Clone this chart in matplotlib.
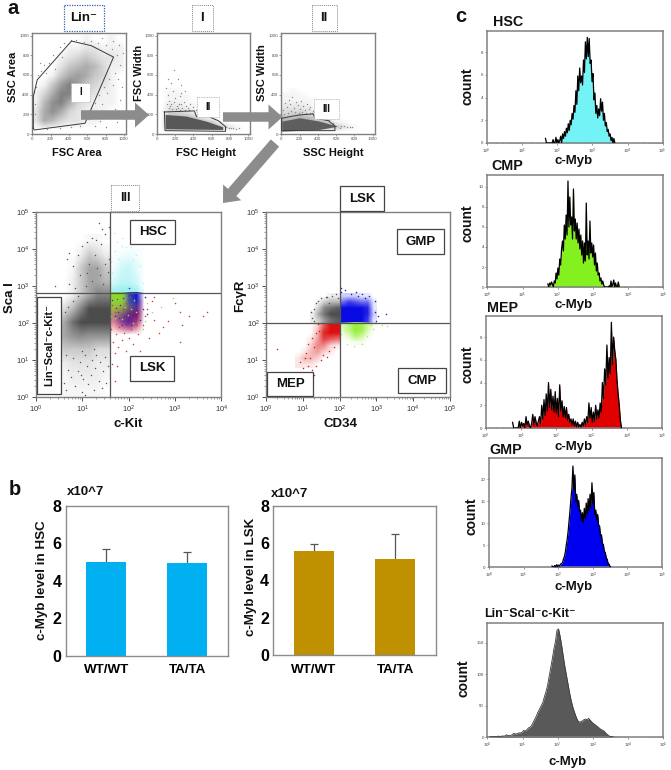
import numpy as np
import matplotlib
matplotlib.use('Agg')
import matplotlib.pyplot as plt
from matplotlib.colors import LinearSegmentedColormap, to_rgb
from matplotlib.patches import Polygon, Rectangle, FancyArrow

W, H = 671, 770
plt.rcParams['font.family'] = ['Liberation Sans', 'DejaVu Sans']
plt.rcParams['mathtext.fontset'] = 'custom'
plt.rcParams['mathtext.rm'] = 'Liberation Sans'
plt.rcParams['mathtext.bf'] = 'Liberation Sans:bold'

# --- b: bars ---
genotypes = ['WT/WT', 'TA/TA']
hsc_level = [5.0, 4.95]
hsc_upper = [5.68, 5.54]
lsk_level = [5.58, 5.13]
lsk_upper = [5.95, 6.47]

# --- a: gates, top row (linear 0-1024) ---
gate_i = [(11, 58), (11, 381), (54, 551), (428, 945), (645, 898), (888, 782), (576, 109), (22, 41), (11, 58)]
gate_ii = [(84, 224), (411, 235), (436, 177), (564, 177), (673, 136), (753, 75), (753, 27), (91, 34), (84, 224)]
gate_iii = [(4, 160), (95, 177), (204, 194), (350, 204), (369, 160), (515, 136), (588, 82), (588, 34), (4, 34), (4, 160)]

fsc_dark = [(98, 194), (327, 177), (545, 126), (727, 68), (727, 41), (98, 48)]
ssc_dark = [(11, 126), (204, 160), (422, 126), (622, 75), (422, 41), (11, 24)]

# event density read by eye, rows run from low y to high y
top_x = [0, 100, 200, 300, 400, 500, 600, 700, 800, 900, 1000]
area_y = [0, 100, 200, 300, 400, 500, 600, 700, 800, 900, 1000]
area_density = [[0, 0, 0, 0, 0, 0, 0, 0, 0, 0, 0],
                [2, 6, 5, 3, 2, 2, 1, 1, 0, 0, 0],
                [2, 6, 8, 6, 3, 2, 1, 1, 1, 0, 0],
                [1, 5, 8, 9, 6, 3, 2, 1, 1, 1, 0],
                [1, 3, 6, 9, 9, 5, 3, 2, 1, 1, 0],
                [0, 1, 4, 7, 9, 7, 4, 3, 2, 1, 0],
                [0, 0, 1, 4, 6, 7, 6, 4, 3, 1, 0],
                [0, 0, 0, 2, 4, 5, 6, 5, 3, 1, 1],
                [0, 0, 0, 1, 2, 3, 4, 3, 2, 2, 1],
                [0, 0, 0, 0, 1, 1, 2, 2, 1, 1, 1],
                [0, 0, 0, 0, 0, 0, 1, 0, 0, 1, 0]]
width_y = [0, 50, 100, 150, 200, 250, 300, 350, 400, 450, 500]
fsc_density = [[0, 0, 0, 0, 0, 0, 0, 0, 0, 0, 0],
               [0, 7, 8, 8, 8, 8, 7, 6, 3, 1, 0],
               [0, 7, 8, 8, 8, 7, 6, 2, 0, 0, 0],
               [0, 7, 8, 7, 6, 3, 1, 0, 0, 0, 0],
               [0, 5, 5, 4, 2, 1, 0, 0, 0, 0, 0],
               [0, 3, 3, 2, 1, 0, 0, 0, 0, 0, 0],
               [0, 2, 2, 1, 1, 0, 0, 0, 0, 0, 0],
               [0, 1, 1, 1, 0, 0, 0, 0, 0, 0, 0],
               [0, 1, 1, 1, 0, 0, 0, 0, 0, 0, 0],
               [0, 1, 1, 0, 0, 0, 0, 0, 0, 0, 0],
               [0, 0, 0, 0, 0, 0, 0, 0, 0, 0, 0]]
ssc_density = [[0, 0, 0, 0, 0, 0, 0, 0, 0, 0, 0],
               [8, 8, 8, 8, 8, 7, 6, 3, 1, 0, 0],
               [8, 8, 8, 8, 7, 6, 2, 1, 0, 0, 0],
               [7, 7, 8, 7, 5, 2, 0, 0, 0, 0, 0],
               [4, 5, 5, 3, 1, 0, 0, 0, 0, 0, 0],
               [3, 3, 3, 2, 1, 0, 0, 0, 0, 0, 0],
               [2, 2, 2, 1, 0, 0, 0, 0, 0, 0, 0],
               [1, 1, 1, 1, 0, 0, 0, 0, 0, 0, 0],
               [1, 1, 1, 0, 0, 0, 0, 0, 0, 0, 0],
               [0, 1, 0, 0, 0, 0, 0, 0, 0, 0, 0],
               [0, 0, 0, 0, 0, 0, 0, 0, 0, 0, 0]]

area_dots = [(20, 430), (35, 480), (60, 600), (90, 640), (130, 700), (180, 720), (230, 800), (300, 880), (350, 930),
             (480, 960), (560, 940), (640, 950), (720, 930), (800, 900), (870, 860), (930, 800), (960, 700), (900, 620),
             (840, 560), (780, 480), (730, 400), (680, 320), (640, 260), (600, 190), (760, 300), (820, 420), (880, 500),
             (940, 560), (980, 480), (960, 350), (900, 250), (820, 190), (740, 130), (680, 80), (800, 70), (930, 120),
             (970, 220), (300, 60), (420, 70), (520, 85), (160, 50), (80, 720), (150, 620), (250, 660), (330, 780),
             (420, 960), (760, 980), (880, 950), (950, 900), (990, 820), (30, 300), (25, 200), (700, 230), (620, 150)]
fsc_dots = [(105, 470), (120, 400), (140, 340), (160, 300), (180, 440), (200, 370), (220, 280), (240, 310), (260, 390),
            (280, 260), (300, 330), (320, 285), (340, 260), (360, 300), (130, 260), (170, 255), (210, 250), (250, 245),
            (110, 300), (150, 280), (190, 330), (230, 265), (270, 300), (310, 245), (350, 245), (400, 270), (430, 240),
            (450, 310), (190, 650), (230, 560), (160, 520), (270, 500), (310, 440), (120, 560), (480, 220), (520, 195),
            (560, 190), (600, 170), (640, 150), (690, 120), (760, 75), (790, 60), (810, 65), (840, 58), (870, 55), (900, 58), (270, 420)]
ssc_dots = [(20, 240), (40, 320), (60, 270), (80, 350), (100, 300), (120, 380), (140, 260), (160, 330), (180, 290),
            (200, 250), (220, 340), (240, 280), (260, 240), (280, 300), (300, 250), (320, 270), (350, 230), (30, 200),
            (70, 210), (110, 230), (150, 225), (190, 215), (230, 225), (270, 215), (310, 210), (340, 215), (390, 200),
            (430, 190), (470, 160), (520, 140), (570, 110), (660, 80), (690, 78), (720, 74), (750, 76), (780, 72), (640, 60), (380, 250)]

# --- a: lower left plot, log10 positions (c-Kit, Sca I) ---
black_lx = [0, 0.2, 0.4, 0.6, 0.8, 1.0, 1.2, 1.4, 1.59]
black_ly = [0, 0.4, 0.8, 1.2, 1.6, 2.0, 2.4, 2.8, 3.2, 3.6, 4.0, 4.4]
black_density = [[0, 0, 0, .5, .5, .5, .5, .5, 0],
                 [0, 0, .5, .5, 1, 1, 1, 1, .5],
                 [0, 0, .5, 1, 1.5, 1.5, 1.5, 1, 1],
                 [0, 1, 2, 3, 3, 3, 3, 2, 2],
                 [0, 2, 4, 5, 6, 6.5, 6, 6, 6],
                 [0, 2, 3, 5, 8, 10, 10, 10, 10],
                 [0, 1, 1, 2, 4, 7, 10, 10, 10],
                 [0, 0, 0, 0, 1, 3, 5, 7, 7],
                 [0, 0, 0, 0, 1, 3, 5, 5, 4],
                 [0, 0, 0, 0, .5, 3, 5, 5, 3],
                 [0, 0, 0, 0, 0, 1, 3, 2, 1],
                 [0, 0, 0, 0, 0, 0, .5, .5, 0]]
mix_lx = [1.59, 1.8, 2.0, 2.2, 2.4]
mix_ly = [1.6, 1.8, 2.0, 2.2, 2.4, 2.6, 2.83]
mix_red = [[0, 0, 0, 0, 0], [3, 5, 6, 4, 0], [5, 7, 9, 8, 0], [6, 8, 10, 10, 0], [6, 7, 9, 10, 0], [3, 4, 5, 6, 0], [1, 1, 1, 1, 0]]
mix_blue = [[0, 0, 0, 0, 0], [0, 1, 2, 1, 0], [1, 4, 6, 3, 0], [2, 5, 6, 5, 0], [1, 3, 6, 6, 0], [1, 2, 9, 10, 0], [1, 2, 10, 10, 0]]
mix_green = [[0, 0, 0, 0, 0], [0, 0, 0, 0, 0], [0, 0, 0, 0, 0], [3, 3, 1, 0, 0], [7, 6, 3, 1, 0], [9, 9, 3, 1, 0], [9, 9, 3, 0, 0]]
cyan_ly = [2.83, 3.0, 3.2, 3.4, 3.6, 3.8, 4.0, 4.2]
cyan_density = [[9, 10, 10, 9, 0], [5, 7, 7, 5, 0], [3, 6, 6, 4, 0], [2, 5, 6, 3, 0], [1, 4, 5, 3, 0], [1, 2, 3, 1, 0], [0, 1, 1, 1, 0], [0, 0, 0, 0, 0]]

black_dots = [(0.3, 0.2), (0.45, 0.65), (0.55, 1.0), (0.6, 0.4), (0.65, 0.2), (0.7, 0.75), (0.75, 0.55), (0.8, 1.05), (0.85, 0.3),
              (0.9, 0.7), (0.95, 0.95), (1.0, 0.15), (1.02, 0.5), (1.05, 1.15), (1.1, 0.85), (1.13, 0.35), (1.18, 0.6), (1.2, 1.0),
              (1.25, 0.2), (1.28, 0.8), (1.3, 1.15), (1.35, 0.45), (1.38, 0.95), (1.42, 0.25), (1.45, 0.7), (1.5, 1.1), (1.52, 0.4),
              (1.55, 0.85), (0.35, 1.3), (0.4, 1.75), (0.3, 2.05), (0.38, 1.55), (0.5, 1.45), (0.55, 1.9), (0.25, 1.7), (0.62, 2.3),
              (0.7, 2.45), (0.8, 2.6), (0.9, 2.75), (0.65, 1.15), (1.0, 1.25), (1.25, 1.3), (0.72, 3.05), (0.85, 2.95), (0.95, 3.3),
              (0.8, 3.55), (0.67, 3.75), (0.72, 3.9), (0.9, 3.85), (1.0, 4.1), (1.1, 4.2), (1.2, 4.3), (1.3, 4.25), (1.4, 4.15), (1.5, 4.4),
              (1.42, 4.55), (1.35, 4.7), (1.58, 4.6), (1.55, 3.4), (1.58, 3.75), (0.4, 3.0), (1.05, 0.05), (0.98, 0.6), (0.5, 0.1),
              (1.08, 3.0), (1.2, 3.15), (1.32, 3.5), (1.44, 3.05), (1.15, 3.6), (1.28, 3.85), (1.38, 3.3), (1.5, 3.6), (1.1, 3.35)]
cyan_dots = [(1.6, 3.1), (1.62, 3.65), (1.7, 3.95), (1.75, 4.2), (1.85, 4.1), (1.95, 4.05), (2.05, 4.05), (2.15, 3.85), (2.25, 3.55),
             (2.3, 3.1), (2.32, 2.9), (2.1, 3.7), (1.65, 3.35), (1.8, 3.75), (1.68, 4.45), (1.85, 4.3)]
red_dots = [(1.62, 1.85), (1.67, 1.5), (1.7, 1.2), (1.65, 0.9), (1.72, 1.7), (1.78, 1.35), (1.8, 1.9), (1.85, 1.55), (1.9, 1.75),
            (1.95, 1.25), (2.0, 1.6), (2.05, 1.85), (2.1, 1.45), (2.15, 1.95), (2.2, 1.7), (2.25, 1.25), (2.3, 1.95), (2.35, 2.2),
            (2.4, 2.4), (2.5, 2.6), (2.55, 2.1), (2.65, 1.75), (2.75, 1.9), (2.85, 2.05), (3.0, 2.55), (3.1, 2.3), (3.15, 1.95),
            (3.1, 1.5), (3.3, 2.2), (2.45, 1.6), (2.55, 2.7), (1.7, 0.45), (1.75, 0.85), (3.6, 2.2), (3.7, 2.3), (2.35, 2.7),
            (1.65, 2.5), (1.75, 2.65), (1.88, 2.38), (2.02, 2.7), (1.7, 2.3), (1.95, 2.55), (2.12, 2.6)]
green_dots = [(2.4, 2.55), (2.5, 2.3), (2.35, 2.05), (2.7, 2.45), (2.1, 2.0), (1.62, 2.2), (1.7, 2.15), (2.95, 2.68), (2.3, 1.85),
              (1.92, 2.45), (2.05, 2.4), (2.15, 2.3), (1.98, 2.22), (2.12, 2.62), (1.85, 2.12)]
blue_dots = [(1.85, 1.95), (1.95, 1.98), (2.25, 2.1), (2.3, 2.4), (2.35, 2.7), (1.7, 2.2), (1.8, 2.15), (2.05, 1.95), (2.4, 2.25), (2.0, 2.95),
             (1.72, 2.42), (1.82, 2.5), (1.88, 2.68), (1.65, 2.62), (1.78, 2.3), (1.9, 2.2), (2.15, 2.4)]

# --- a: lower right plot, log10 positions (CD34, FcgR) ---
cd_black_lx = [1.2, 1.4, 1.6, 1.8, 2.0]
cd_black_ly = [2.0, 2.2, 2.4, 2.6, 2.8]
cd_black = [[1, 3, 6, 8, 9], [1, 5, 8, 10, 10], [0, 3, 7, 8, 9], [0, 1, 3, 4, 4], [0, 0, 0, 1, 1]]
cd_blue_lx = [2.0, 2.2, 2.4, 2.6, 2.8, 3.0]
cd_blue_ly = [2.0, 2.2, 2.4, 2.6, 2.8]
cd_blue = [[10, 10, 10, 10, 8, 1], [10, 10, 10, 10, 9, 2], [10, 10, 10, 10, 9, 1], [6, 8, 7, 6, 6, 1], [2, 2, 2, 1, 1, 0]]
cd_green_ly = [1.4, 1.6, 1.8, 2.0]
cd_green = [[0, 0, 1, 1, 0, 0], [1, 3, 7, 5, 1, 0], [3, 6, 10, 9, 4, 0], [4, 7, 10, 9, 5, 1]]
cd_red_lx = [0.8, 1.0, 1.2, 1.4, 1.6, 1.8, 2.0]
cd_red_ly = [0.8, 1.0, 1.2, 1.4, 1.6, 1.8, 2.0]
cd_red = [[1, 1, 1, 0, 0, 0, 0], [1, 3, 3, 2, 0, 0, 0], [0, 1, 3, 4, 2, 1, 0], [0, 0, 2, 5, 5, 2, 1],
          [0, 0, 1, 4, 8, 7, 6], [0, 0, 0, 3, 9, 10, 10], [0, 0, 0, 2, 7, 10, 10]]

cd34_black_dots = [(1.22, 2.3), (1.3, 2.05), (1.35, 2.55), (1.42, 2.6), (1.5, 2.68), (1.62, 2.72), (1.7, 2.55), (1.8, 2.75), (1.9, 2.8),
                   (1.95, 2.68), (1.25, 2.15), (1.55, 2.0), (1.65, 2.7), (1.3, 2.4)]
cd34_blue_dots = [(2.05, 2.85), (2.15, 2.9), (2.3, 2.78), (2.45, 2.85), (2.6, 2.8), (2.8, 2.75), (2.95, 2.6), (2.97, 2.3), (2.98, 2.05),
                  (3.05, 2.2), (3.25, 2.25), (2.7, 2.68), (2.5, 2.75), (2.03, 2.95)]
cd34_green_dots = [(2.85, 1.95), (2.9, 1.85), (2.95, 2.0), (3.15, 1.95), (3.3, 1.93), (2.75, 1.65), (2.6, 1.45), (2.4, 1.38), (2.2, 1.45), (2.05, 1.7)]
cd34_red_dots = [(0.3, 1.3), (0.92, 0.95), (1.0, 0.8), (1.05, 1.05), (1.1, 1.2), (1.2, 1.05), (1.25, 0.75), (1.3, 1.35), (1.35, 0.85),
                 (1.15, 1.45), (1.25, 1.6), (1.35, 1.75), (1.45, 1.8), (1.5, 1.0), (1.55, 1.15), (1.65, 1.1), (1.4, 1.98), (1.7, 1.25),
                 (1.3, 0.6), (1.2, 0.5), (1.15, 0.85), (1.85, 1.35)]

# --- c: histograms, counts per channel ---
hsc_counts = [.4, 0, 0, 0, 0, 0, 0, 0, .3, 0, 0, .5, 0, .3, 0, .2, .6, 0, .8, .4, 1.0, .6, 1.3, .9, 1.7, 1.1, 2.0, 1.6, 2.6, 2.1, 3.3,
              2.7, 4.6, 3.4, 5.9, 4.6, 6.6, 5.3, 5.9, 5.1, 7.3, 6.2, 8.9, 7.4, 9.3, 7.6, 9.2, 7.0, 7.3, 5.4, 6.1, 3.8, 4.4, 2.6,
              3.3, 2.2, 3.0, 2.4, 3.9, 2.8, 3.6, 2.0, 2.6, 1.5, 1.8, 1.0, 1.2, .6, .8, .2, .5, 0, .4, 0]
cmp_counts = [.3, 0, .4, .2, .5, .3, 0, .6, .4, 1.4, .8, 1.9, 1.2, 2.8, 2.2, 3.8, 4.6, 3.6, 6.2, 4.8, 7.2, 5.2, 10.6, 6.0, 9.0, 6.2,
              7.0, 4.8, 9.8, 5.6, 6.8, 4.8, 6.4, 4.4, 5.8, 3.8, 5.2, 3.2, 4.6, 2.4, 4.4, 2.6, 8.4, 3.2, 4.6, 2.8, 6.6, 3.4,
              4.4, 3.0, 4.2, 2.2, 3.4, 1.6, 2.4, 1.2, 1.4, .6, .9, .3, .6, .2, 0, 0, 0, 0, 0, .1, 0, .6, 0, .3, .7, 0, .4, 0, 0, .5, 0]
mep_counts = [.5, 0, 0, 0, 0, 0, .6, 0, .5, .2, .4, 0, 1.0, .3, .6, .2, 0, .4, 1.2, .3, 1.0, .5, .2, .6, 1.0, .4, 2.0, .8, 2.5, 1.1, 3.0,
              1.5, 4.0, 1.8, 3.4, 1.6, 2.8, 1.4, 3.2, 1.3, 2.6, 1.0, 3.8, 1.5, 2.4, 1.0, 1.9, .9, 1.8, .7, 1.2, .5, .8, .3, .8,
              .2, .6, .1, .5, .1, .3, .1, .5, .2, .8, .3, 1.0, .5, 2.2, .9, 1.8, .5, 1.4, .6, 2.0, .8, 1.6, .9, 2.2, 1.4, 4.0, 2.6, 5.2, 3.8, 7.3,
              4.4, 6.2, 4.8, 9.3, 5.6, 8.0, 6.8, 6.0, 4.2, 3.0, 2.0, .7, 0]
gmp_counts = [.3, 0, .2, .4, .1, .6, .2, .5, .3, .7, .9, 1.0, 1.8, 2.4, 3.4, 5.0, 6.4, 8.2, 10.6, 13.0, 15.8, 18.0, 23.0, 17.6, 21.0,
              15.0, 16.6, 13.8, 15.2, 12.6, 13.0, 10.6, 12.4, 10.2, 13.4, 11.0, 14.6, 12.0, 15.6, 12.8, 16.6, 13.6, 19.2, 14.4,
              17.0, 12.0, 13.0, 10.8, 12.0, 9.6, 9.4, 7.2, 7.4, 5.4, 5.2, 3.6, 3.4, 2.2, 1.8, .9, .7, .2, 0]
lin_counts = [0, 0, 1, 1, 1, 1, 1, 2, 1, 2, 2, 2, 4, 3, 3, 3, 5, 6, 5, 6, 7, 7, 8, 11, 10, 12, 15, 16, 19, 24, 29, 34, 40, 45, 50, 55, 64, 72,
              82, 96, 110, 124, 140, 152, 170, 172, 160, 145, 128, 112, 98, 84, 70, 58, 48, 40, 33, 27, 24, 25, 26, 28, 29, 28, 30, 27, 24,
              22, 20, 18, 16, 14, 12, 11, 9, 6, 4, 2, 1, 1, 0, 0, 0]

hist_start = {'hsc': 1.67, 'cmp': 1.72, 'mep': 0.76, 'gmp': 1.82, 'lin': 0.0}
hist_step = {'hsc': 0.027, 'cmp': 0.026, 'mep': 0.0318, 'gmp': 0.0275, 'lin': 0.045}


def px_axes(fig, left, top, right, bottom):
    return fig.add_axes([left / W, 1 - bottom / H, (right - left) / W, (bottom - top) / H])


def style_spines(ax, color='#808080', lw=1.0):
    for side in ax.spines.values():
        side.set_color(color)
        side.set_linewidth(lw)


def fade_cmap(color):
    r, g, b = to_rgb(color)
    return LinearSegmentedColormap.from_list('fade', [(r, g, b, 0.0), (r, g, b, 1.0)])


def under_axes(fig, box, xlim, ylim):
    # sits behind a panel and holds its density images, in linear or log10 units
    under = px_axes(fig, *box)
    under.set_zorder(-1)
    under.set_xlim(*xlim)
    under.set_ylim(*ylim)
    under.axis('off')
    return under


def density(under, xs, ys, grid, color, vmax=10):
    under.imshow(np.array(grid, dtype=float), origin='lower', extent=(xs[0], xs[-1], ys[0], ys[-1]), aspect='auto',
                 interpolation='bilinear', cmap=fade_cmap(color), vmin=0, vmax=vmax)


def fill_poly(ax, points, color, zorder=2):
    ax.add_patch(Polygon(np.array(points, dtype=float), closed=True, facecolor=color, edgecolor='none', zorder=zorder))


def dots(ax, points, color, log=False, size=1.0, zorder=3):
    pts = np.array(points, dtype=float)
    if log:
        pts = 10 ** pts
    ax.scatter(pts[:, 0], pts[:, 1], s=size, c=color, linewidths=0, zorder=zorder)


def linear_panel(fig, box, gate, points):
    ax = px_axes(fig, *box)
    ax.patch.set_alpha(0)
    ax.set_xlim(0, 1024)
    ax.set_ylim(0, 1024)
    dots(ax, points, '#8a8a8a', size=1.0)
    gate = np.array(gate)
    ax.plot(gate[:, 0], gate[:, 1], color='#3a3a3a', lw=0.7, zorder=4)
    ax.set_xticks(range(0, 1001, 200))
    ax.set_yticks(range(0, 1001, 200))
    ax.tick_params(labelsize=3.2, length=1.2, width=0.4, pad=0.8, colors='#555555')
    style_spines(ax)
    return ax


def log_panel(fig, box, xmax, vline, hline):
    ax = px_axes(fig, *box)
    ax.patch.set_alpha(0)
    ax.set_xscale('log')
    ax.set_yscale('log')
    ax.set_xlim(1, xmax)
    ax.set_ylim(1, 1e5)
    ax.axvline(vline, color='#555555', lw=0.9, zorder=5)
    ax.axhline(hline, color='#555555', lw=0.9, zorder=5)
    ax.tick_params(which='major', labelsize=5.5, length=3, width=0.6, pad=1.5, colors='#333333')
    ax.tick_params(which='minor', length=1.5, width=0.4, colors='#555555')
    style_spines(ax)
    return ax


def hist_panel(fig, box, key, counts, color, ymax, yticks, edge='black', edge_lw=0.9):
    ax = px_axes(fig, *box)
    x = 10 ** (hist_start[key] + hist_step[key] * np.arange(len(counts)))
    ax.fill_between(x, 0, counts, color=color, linewidth=0, zorder=2)
    ax.plot(x, counts, color=edge, lw=edge_lw, zorder=3)
    ax.set_xscale('log')
    ax.set_xlim(1, 1e5)
    ax.set_ylim(0, ymax)
    ax.set_yticks(yticks)
    ax.set_xticks([1, 10, 100, 1000, 1e4, 1e5])
    ax.tick_params(which='major', labelsize=3.2, length=1.6, width=0.4, pad=0.8, colors='#444444')
    ax.tick_params(which='minor', length=1, width=0.3, colors='#444444')
    style_spines(ax, lw=1.1)
    return ax


def bar_panel(fig, box, values, upper, color):
    ax = px_axes(fig, *box)
    x = np.arange(len(genotypes))
    ax.bar(x, values, width=0.5, color=color, zorder=2)
    ax.vlines(x, values, upper, color='#555555', lw=0.9, zorder=1)
    ax.hlines(upper, x - 0.05, x + 0.05, color='#555555', lw=0.9, zorder=1)
    ax.set_xlim(-0.5, 1.5)
    ax.set_ylim(0, 8)
    ax.set_yticks([0, 2, 4, 6, 8])
    ax.set_xticks(x)
    ax.set_xticklabels(genotypes, fontsize=9.6, fontweight='bold')
    ax.tick_params(axis='y', labelsize=11.5, length=0, pad=3)
    ax.tick_params(axis='x', length=0, pad=6)
    for tick in ax.get_yticklabels():
        tick.set_fontweight('bold')
    style_spines(ax, color='#8c8c8c')
    return ax


fig = plt.figure(figsize=(W / 100, H / 100), dpi=100, facecolor='white')

# top row
box_i = (32.3, 33.3, 126, 134)
box_ii = (156.7, 33.3, 250.3, 134)
box_iii = (281.3, 33.3, 374.7, 134)
ax_i = linear_panel(fig, box_i, gate_i, area_dots)
density(under_axes(fig, box_i, (0, 1024), (0, 1024)), top_x, area_y, area_density, '#828282', vmax=9)
ax_ii = linear_panel(fig, box_ii, gate_ii, fsc_dots)
density(under_axes(fig, box_ii, (0, 1024), (0, 1024)), top_x, width_y, fsc_density, '#8a8a8a', vmax=12)
fill_poly(ax_ii, fsc_dark, '#585858')
ax_iii = linear_panel(fig, box_iii, gate_iii, ssc_dots)
density(under_axes(fig, box_iii, (0, 1024), (0, 1024)), top_x, width_y, ssc_density, '#8a8a8a', vmax=12)
fill_poly(ax_iii, ssc_dark, '#5e5e5e')

# lower left scatter
box_kit = (36, 212.3, 221.3, 397.3)
ax_kit = log_panel(fig, box_kit, 1e4, 39, 670)
under_kit = under_axes(fig, box_kit, (0, 4), (0, 5))
density(under_kit, black_lx, black_ly, black_density, '#4c4c4c')
density(under_kit, mix_lx, cyan_ly, cyan_density, '#9cf0f4')
density(under_kit, mix_lx, mix_ly, mix_red, '#d81c24')
density(under_kit, mix_lx, mix_ly, mix_blue, '#1414d8')
density(under_kit, mix_lx, mix_ly, mix_green, '#84d81e')
dots(ax_kit, black_dots, '#555555', log=True, size=1.1)
dots(ax_kit, cyan_dots, '#b5f2f4', log=True, size=1.4)
dots(ax_kit, red_dots, '#d63a3a', log=True, size=1.2)
dots(ax_kit, green_dots, '#9cdc50', log=True, size=1.2)
dots(ax_kit, blue_dots, '#3232d0', log=True, size=1.2)

# lower right scatter
box_cd = (266, 212.3, 450, 397.3)
ax_cd = log_panel(fig, box_cd, 1e5, 100, 100)
under_cd = under_axes(fig, box_cd, (0, 5), (0, 5))
density(under_cd, cd_black_lx, cd_black_ly, cd_black, '#4c4c4c')
density(under_cd, cd_blue_lx, cd_blue_ly, cd_blue, '#0a0ae4')
density(under_cd, cd_blue_lx, cd_green_ly, cd_green, '#96f03c')
density(under_cd, cd_red_lx, cd_red_ly, cd_red, '#dc1010')
dots(ax_cd, cd34_black_dots, '#555555', log=True, size=1.2)
dots(ax_cd, cd34_blue_dots, '#1818e0', log=True, size=1.2)
dots(ax_cd, cd34_green_dots, '#a8ee60', log=True, size=1.2)
dots(ax_cd, cd34_red_dots, '#d62020', log=True, size=1.2)

# bars
bar_panel(fig, (65.7, 506, 227.7, 655.7), hsc_level, hsc_upper, '#00b0f0')
bar_panel(fig, (273.3, 505.7, 435.7, 655.3), lsk_level, lsk_upper, '#bf9000')

# histograms
hist_panel(fig, (486.7, 30.7, 662.7, 143), 'hsc', hsc_counts, '#74f3f7', 9.88, [0, 2, 4, 6, 8])
hist_panel(fig, (487.3, 175, 663.3, 287), 'cmp', cmp_counts, '#84f01e', 11.2, [0, 2, 4, 6, 8, 10])
hist_panel(fig, (485.7, 315.7, 662.3, 428), 'mep', mep_counts, '#e00000', 9.88, [0, 2, 4, 6, 8])
hist_panel(fig, (489, 457.7, 662, 567.3), 'gmp', gmp_counts, '#0000f0', 24.9, [0, 5, 10, 15, 20])
hist_panel(fig, (487.3, 623.3, 663.3, 737.3), 'lin', lin_counts, '#595959', 181, [0, 50, 100, 150], edge='#3a3a3a', edge_lw=0.6)

# overlay in pixel coordinates for arrows, boxes and free labels
over = fig.add_axes([0, 0, 1, 1], zorder=10)
over.set_xlim(0, W)
over.set_ylim(H, 0)
over.axis('off')
over.patch.set_alpha(0)

for x0, y0, dx, dy, shaft, head in [(81, 115, 68, 0, 9.5, 25), (223, 117, 59.5, 0, 9.5, 25), (275, 143, -52, 60, 11, 24)]:
    over.add_patch(FancyArrow(x0, y0, dx, dy, width=shaft, head_width=head, head_length=14,
                              length_includes_head=True, color='#8c8c8c', lw=0))


def label_box(left, top, right, bottom, text, size=9.5, ls='-', edge='#444444', lw=0.9, rotation=0):
    over.add_patch(Rectangle((left, top), right - left, bottom - top, facecolor='white', edgecolor=edge, lw=lw, ls=ls))
    over.text((left + right) / 2, (top + bottom) / 2, text, ha='center', va='center', fontsize=size,
              fontweight='bold', rotation=rotation, color='#111111')


dotted = (0, (1, 1))
label_box(64, 4.7, 104, 30.7, 'Lin\u207b', ls=dotted, edge='#3060a8', lw=0.9)
label_box(191.7, 5, 212.7, 30.7, 'I', ls=dotted, edge='#888888', lw=0.7)
label_box(311.7, 5, 336.7, 30.7, 'II', ls=dotted, edge='#888888', lw=0.7)
label_box(70.7, 82.7, 90, 101.7, 'I', size=7, ls=dotted, edge='#aaaaaa', lw=0.6)
label_box(196.7, 97.3, 218.7, 116.7, 'II', size=7, ls=dotted, edge='#aaaaaa', lw=0.6)
label_box(314.3, 99.3, 338.7, 119.3, 'III', size=7, ls=dotted, edge='#aaaaaa', lw=0.6)
label_box(111.3, 185, 139.3, 210.7, 'III', size=9, ls=dotted, edge='#888888', lw=0.7)
label_box(129.7, 219.7, 175.3, 244.3, 'HSC', size=9.5)
label_box(129.7, 355.7, 174, 380.7, 'LSK', size=9.5)
label_box(37.3, 296.7, 60.7, 394, 'Lin\u207bScaI\u207bc-Kit\u207b', size=8, rotation=90)
label_box(340, 186, 384.3, 211.3, 'LSK', size=9.5)
label_box(396.7, 229.3, 444.3, 254, 'GMP', size=9.5)
label_box(398.3, 368.3, 445.7, 393.3, 'CMP', size=9.5)
label_box(267.3, 371.7, 313.3, 396, 'MEP', size=9.5)

free_labels = [
    (77, 153, 'FSC Area', 8, 0), (206, 153, 'FSC Height', 8, 0), (333, 153, 'SSC Height', 8, 0),
    (13, 77, 'SSC Area', 8, 90), (139, 73, 'FSC Width', 8, 90), (262, 73, 'SSC Width', 8, 90),
    (128, 424, 'c-Kit', 9.5, 0), (340, 424, 'CD34', 9.5, 0), (10, 298, 'Sca I', 9.5, 90), (240, 296, 'Fc\u03b3R', 9.5, 90),
    (86, 492, 'x10^7', 9.5, 0), (290, 494, 'x10^7', 9.5, 0),
    (42, 580, 'c-Myb level in HSC', 9.6, 90), (251, 577, 'c-Myb level in LSK', 9.6, 90),
    (508, 22, 'HSC', 10.3, 0), (507, 166, 'CMP', 10.3, 0), (502, 308, 'MEP', 10.3, 0), (506, 450, 'GMP', 10.3, 0),
    (530, 614, 'Lin\u207bScaI\u207bc-Kit\u207b', 8.9, 0),
    (574, 161, 'c-Myb', 9.5, 0), (574, 305, 'c-Myb', 9.5, 0), (574, 447, 'c-Myb', 9.5, 0), (574, 587, 'c-Myb', 9.5, 0),
    (568, 762, 'c-Myb', 9.5, 0),
    (468, 86, 'count', 10, 90), (467, 223, 'count', 10, 90), (467, 364, 'count', 10, 90), (472, 516, 'count', 10, 90),
    (464, 678, 'count', 10, 90),
]
for x, y, text, size, rot in free_labels:
    over.text(x, y, text, ha='center', va='center', fontsize=size, fontweight='bold', rotation=rot, color='#111111')

for x, y, text in [(13, 14.5, 'a'), (15, 495, 'b'), (461, 22, 'c')]:
    over.text(x, y, text, ha='center', va='baseline', fontsize=14.5, fontweight='bold', color='#111111')

fig.savefig('out.png', dpi=100)
plt.close(fig)
